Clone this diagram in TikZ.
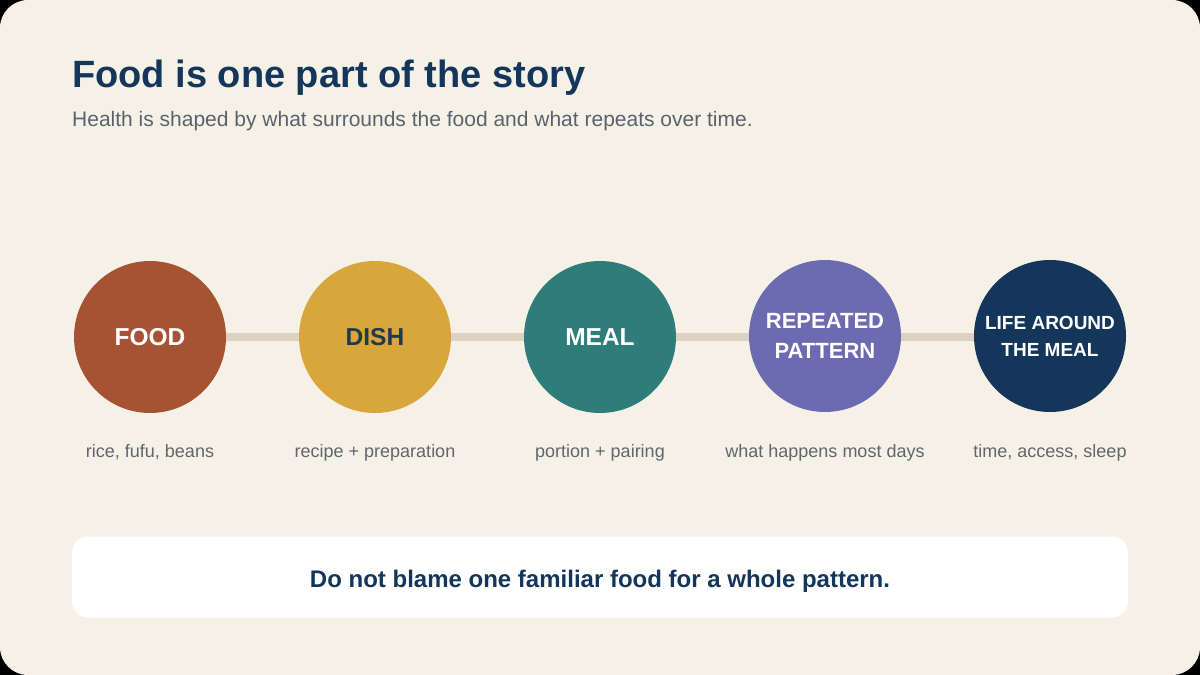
\documentclass[tikz,border=0pt]{standalone}
\usepackage{fontspec}
\setmainfont{Liberation Sans}
\usetikzlibrary{positioning}

\definecolor{pagebg}{HTML}{F6F1E7}
\definecolor{navy}{HTML}{14365A}
\definecolor{subgray}{HTML}{5A636C}
\definecolor{capgray}{HTML}{5F666D}
\definecolor{linktan}{HTML}{DDD1C3}
\definecolor{rust}{HTML}{A65334}
\definecolor{mustard}{HTML}{D9A63C}
\definecolor{teal}{HTML}{2E7D7A}
\definecolor{lavender}{HTML}{6C6AB0}
\definecolor{darktext}{HTML}{1F3A4A}

\begin{document}
\begin{tikzpicture}[
		x=1pt, y=-1pt,
		stage/.style={circle, minimum size=152pt, inner sep=0pt, align=center, text=white, font=\fontsize{24.5}{26}\selectfont\bfseries},
		smallstage/.style={stage, font=\fontsize{22}{30}\selectfont\bfseries},
		tinystage/.style={stage, font=\fontsize{19}{27}\selectfont\bfseries},
		caption/.style={anchor=base, inner sep=0pt, text=capgray, font=\fontsize{18}{20}\selectfont},
		link/.style={line width=8pt, linktan}
	]
		\useasboundingbox (0,0) rectangle (1200,675);
		\fill[black] (0,0) rectangle (1200,675);
		\fill[pagebg, rounded corners=28pt] (0,0) rectangle (1200,675);

		% heading
		\node[anchor=base west, inner sep=0pt, text=navy, font=\fontsize{38}{44}\selectfont\bfseries] (title) at (72,87) {Food is one part of the story};
		\node[anchor=base west, inner sep=0pt, text=subgray, font=\fontsize{21}{24}\selectfont] (subtitle) at (72,126) {Health is shaped by what surrounds the food and what repeats over time.};

		% circles
		\draw[link] (150,337) -- (1050,337);
		\node[stage, fill=rust] (food) at (150,337) {FOOD};
		\node[stage, fill=mustard, text=darktext] (dish) at (375,337) {DISH};
		\node[stage, fill=teal] (meal) at (600,337) {MEAL};
		\node[smallstage, fill=lavender] (pattern) at (825,336) {REPEATED\\PATTERN};
		\node[tinystage, fill=navy] (life) at (1050,336) {LIFE AROUND\\THE MEAL};

		% captions
		\node[caption] (foodcap) at (150,457) {rice, fufu, beans};
		\node[caption] (dishcap) at (375,457) {recipe + preparation};
		\node[caption] (mealcap) at (600,457) {portion + pairing};
		\node[caption] (patterncap) at (825,457) {what happens most days};
		\node[caption] (lifecap) at (1050,457) {time, access, sleep};

		% message box
		\node[fill=white, rounded corners=16pt, minimum width=1056pt, minimum height=81pt] (message) at (600,577) {};
		\node[anchor=base, inner sep=0pt, text=navy, font=\fontsize{24}{28}\selectfont\bfseries] (msgtext) at (600,587) {Do not blame one familiar food for a whole pattern.};
	\end{tikzpicture}
\end{document}
